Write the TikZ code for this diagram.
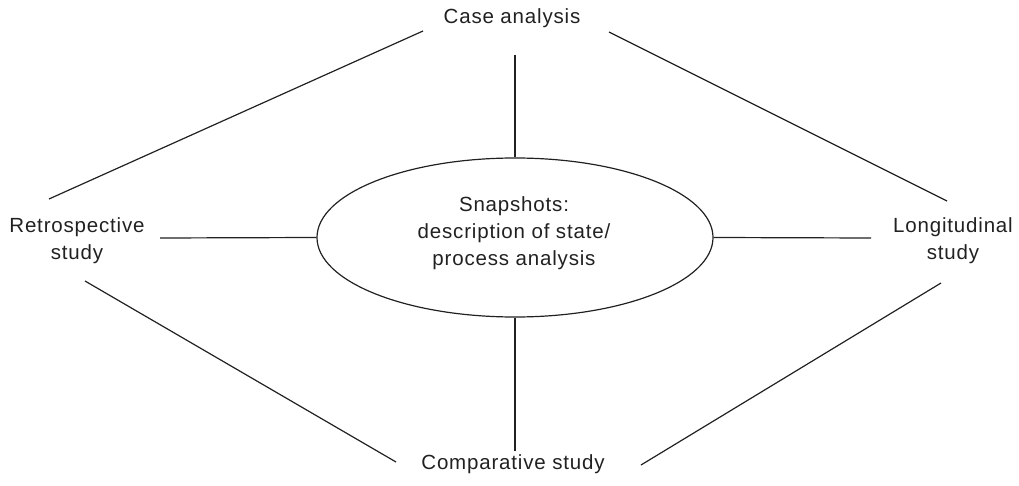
\documentclass[tikz,border=0pt]{standalone}
\usepackage{fontspec}
\setmainfont{Liberation Sans}[LetterSpace=4]
\usetikzlibrary{shapes.geometric}
\definecolor{ink}{gray}{0.13}
\begin{document}
\begin{tikzpicture}[x=1pt,y=-1pt,
  lbl/.style={inner sep=0pt, align=center, text=ink, font=\fontsize{20.5}{27}\selectfont},
  conn/.style={draw=ink, line width=1.2pt}]
\useasboundingbox (0,0) rectangle (1019,486);
\node[ellipse, draw=ink, line width=1.2pt, minimum width=396pt, minimum height=159pt, inner sep=0pt] (ell) at (515,237.5) {};
\node[lbl] (snap) at (514,233) {Snapshots:\\description of state/\\process analysis};
\node[lbl, anchor=base] (case) at (512,24) {Case analysis};
\node[lbl, anchor=base] (comp) at (513,469) {Comparative study};
\node[lbl] (retro) at (77,240.5) {Retrospective\\study};
\node[lbl] (longi) at (953,240.5) {Longitudinal\\study};
% free ends
\coordinate (tv) at (515,55);
\coordinate (bv) at (515,451);
\coordinate (lh) at (160,238);
\coordinate (rh) at (871,238);
\coordinate (tl1) at (49,199);
\coordinate (tl2) at (423,31);
\coordinate (tr1) at (609,32);
\coordinate (tr2) at (947,201);
\coordinate (bl1) at (85,281);
\coordinate (bl2) at (396,462);
\coordinate (br1) at (641,465);
\coordinate (br2) at (941,283);
\draw[conn] (tv) -- (ell.north);
\draw[conn] (ell.south) -- (bv);
\draw[conn] (lh) -- (ell.west);
\draw[conn] (ell.east) -- (rh);
\draw[conn] (tl1) -- (tl2);
\draw[conn] (tr1) -- (tr2);
\draw[conn] (bl1) -- (bl2);
\draw[conn] (br1) -- (br2);
\end{tikzpicture}
\end{document}
